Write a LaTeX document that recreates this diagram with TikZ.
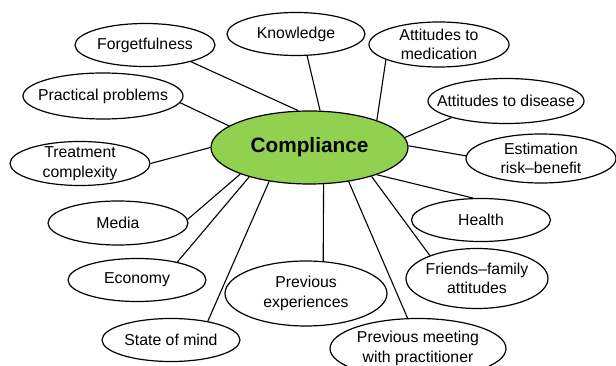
\documentclass[tikz,border=0pt]{standalone}
\usepackage{fontspec}
\setmainfont{Liberation Sans}
\usetikzlibrary{shapes.geometric}
\definecolor{compgreen}{RGB}{146,208,80}
\begin{document}
\begin{tikzpicture}[x=1pt,y=-1pt,
  bub/.style={ellipse,draw,line width=1.2pt,fill=white,inner xsep=-15pt,inner ysep=-8pt,
    align=center,font=\fontsize{15.8}{19.5}\selectfont},
  link/.style={line width=1.1pt}]
\useasboundingbox (0,0) rectangle (616,366);
\clip (0,0) rectangle (616,366);
\node[bub,fill=compgreen,minimum width=197pt,minimum height=73pt,font=\fontsize{20.8}{24}\selectfont\bfseries] (comp) at (309.5,147.5) {Compliance};
\node[bub,minimum width=140pt,minimum height=43pt] (forg) at (145,45) {Forgetfulness};
\node[bub,minimum width=138pt,minimum height=43pt] (know) at (296,34) {Knowledge};
\node[bub,minimum width=140pt,minimum height=45pt] (amed) at (439,44.5) {Attitudes to\\medication};
\node[bub,minimum width=156pt,minimum height=45pt] (adis) at (506,101) {Attitudes to disease};
\node[bub,minimum width=150pt,minimum height=49pt] (est) at (541,158.5) {Estimation\\risk--benefit};
\node[bub,minimum width=160pt,minimum height=46pt] (prac) at (103,96) {Practical problems};
\node[bub,minimum width=140pt,minimum height=44pt] (treat) at (80,163.5) {Treatment\\complexity};
\node[bub,minimum width=140pt,minimum height=44pt] (media) at (118,223) {Media};
\node[bub,minimum width=138pt,minimum height=43pt] (econ) at (137,280) {Economy};
\node[bub,minimum width=138pt,minimum height=43pt] (mind) at (171,340) {State of mind};
\node[bub,minimum width=162pt,minimum height=65pt] (pexp) at (306,293.5) {Previous\\experiences};
\node[bub,minimum width=139pt,minimum height=43pt] (health) at (481,220) {Health};
\node[bub,minimum width=142pt,minimum height=60pt] (friends) at (477,278.5) {Friends--family\\attitudes};
\node[bub,minimum width=176pt,minimum height=60pt] (pmeet) at (418,348.5) {Previous meeting\\with practitioner};
\draw[link] (forg.-20.7) -- (comp.107.5);
\draw[link] (know.-63.4) -- (comp.74);
\draw[link] (amed.-164.5) -- (comp.22);
\draw[link] (adis.-163.7) -- (comp.6.9);
\draw[link] (est.178.5) -- (comp.1.5);
\draw[link] (prac.-5) -- (comp.165.5);
\draw[link] (treat.0) -- (comp.180);
\draw[link] (media.3.3) -- (comp.-159.7);
\draw[link] (econ.24.9) -- (comp.-154.7);
\draw[link] (mind.27.8) -- (comp.-140);
\draw[link] (pexp.62.7) -- (comp.-69.7);
\draw[link] (pmeet.109) -- (comp.-41);
\draw[link] (friends.154.9) -- (comp.-25.5);
\draw[link] (health.110.9) -- (comp.-22);
\end{tikzpicture}
\end{document}
